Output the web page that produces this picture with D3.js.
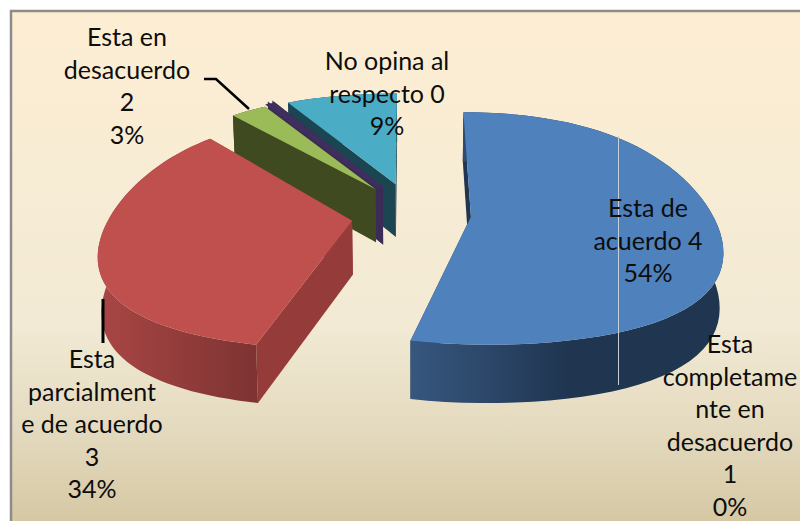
<!DOCTYPE html>
<html>
<head>
<meta charset="utf-8">
<style>
	html, body { margin: 0; padding: 0; background: #fff; }
	svg { display: block; }
	text { font-family: Lato, "Open Sans", sans-serif; font-size: 25px; fill: #0d0d0d; text-anchor: middle; }
</style>
<script src="https://cdn.jsdelivr.net/npm/d3@7/dist/d3.min.js"></script>
</head>
<body>
<svg id="chart" width="800" height="521"></svg>
<script>

// chart values
var categories = ["Esta de acuerdo", "Esta parcialmente de acuerdo", "Esta en desacuerdo", "Esta completamente en desacuerdo", "No opina al respecto"];
var scores = [4, 3, 2, 1, 0];
var percents = [54, 34, 3, 0.4, 8.6];

var labelLines = [
	["Esta de", "acuerdo 4"],
	["Esta", "parcialment", "e de acuerdo", "3"],
	["Esta en", "desacuerdo", "2"],
	["Esta", "completame", "nte en", "desacuerdo", "1"],
	["No opina al", "respecto 0"]
];

var topColors = ["#4f81bd", "#c0504d", "#9bbb59", "#3f2f5e", "#4bacc6"];
var cutColors = ["#1f3550", "#953b39", "#3f4a21", "#3a2c55", "#1c4552"];
var wallLeft = ["#37577f", "#a84644", "#3f4a21", "#3a2c55", "#1c4552"];
var wallRight = ["#1f3550", "#7a3231", "#3f4a21", "#3a2c55", "#1c4552"];

var labelCenters = [[648, 217], [92, 368], [127, 46], [730, 353], [387, 70]];
var drawOrder = [4, 3, 2, 1, 0];

var svg = d3.select("#chart");
var width = 800, height = 521;

var center = {x: 411, y: 213};
var radius = 241;
var tilt = 0.51;
var explode = 60;
var depth = 56;
var lineStep = 32.6;

var pie = d3.pie().sort(null).value(function (d) { return d; });
var arcs = pie(percents);

var defs = svg.append("defs");

var bg = defs.append("linearGradient").attr("id", "bg").attr("x1", 0).attr("y1", 0).attr("x2", 0).attr("y2", 1);
bg.append("stop").attr("offset", "0").attr("stop-color", "#fdeed3");
bg.append("stop").attr("offset", "0.6").attr("stop-color", "#f2ead5");
bg.append("stop").attr("offset", "0.8").attr("stop-color", "#e4dabf");
bg.append("stop").attr("offset", "1").attr("stop-color", "#d4c6a1");

svg.append("rect")
	.attr("x", 11).attr("y", 11)
	.attr("width", width).attr("height", height)
	.attr("fill", "url(#bg)")
	.attr("stroke", "#8c8c8c")
	.attr("stroke-width", 2.5);

// ground position (relative to pie centre, y towards viewer) to screen
function project(gx, gy, h)
{
	var u = gy / radius;
	var s = 1 + 0.21 * u + 0.09 * u * u;
	var yy = radius * tilt * (u + 0.1 * u * u - 0.06 * u * u * u);
	var k = 1 - 0.012 * h;
	return [center.x + gx * s * k, center.y + yy + h * depth * (0.96 + 0.08 * u)];
}

function slicePoint(mid, r, angle, h)
{
	var ox = explode * Math.sin(mid);
	var oy = -explode * Math.cos(mid);
	return project(ox + r * Math.sin(angle), oy - r * Math.cos(angle), h);
}

var line = d3.line();

arcs.forEach(function (d, i)
{
	d.mid = (d.startAngle + d.endAngle) / 2;
	d.rim = d3.range(0, 61).map(function (j) { return d.startAngle + (d.endAngle - d.startAngle) * j / 60; });

	var gr = defs.append("linearGradient").attr("id", "wall" + i)
		.attr("gradientUnits", "userSpaceOnUse")
		.attr("x1", slicePoint(d.mid, radius, d.endAngle, 0)[0])
		.attr("x2", i == 0 ? 570 : slicePoint(d.mid, radius, d.startAngle, 0)[0])
		.attr("y1", 0).attr("y2", 0);
	gr.append("stop").attr("offset", 0).attr("stop-color", wallLeft[i]);
	gr.append("stop").attr("offset", 1).attr("stop-color", wallRight[i]);
	if (i == 1)
	{
		gr.attr("x1", 100).attr("x2", 268);
	}
});

drawOrder.forEach(function (i)
{
	var d = arcs[i];
	var g = svg.append("g").attr("class", "slice");
	// the sliver is too thin to see on its own, so it gets an outline
	var outline = i == 3 ? 4 : 0;

	// cut faces
	[d.endAngle, d.startAngle].forEach(function (a)
	{
		g.append("path")
			.attr("d", line([
				slicePoint(d.mid, radius, a, 0),
				slicePoint(d.mid, 0, a, 0),
				slicePoint(d.mid, 0, a, 1),
				slicePoint(d.mid, radius, a, 1)
			]) + "Z")
			.attr("fill", cutColors[i])
			.attr("stroke", cutColors[i])
			.attr("stroke-width", outline);
	});

	// outer wall
	var topRim = d.rim.map(function (a) { return slicePoint(d.mid, radius, a, 0); });
	var botRim = d.rim.map(function (a) { return slicePoint(d.mid, radius, a, 1); });
	g.append("path")
		.attr("d", line(topRim.concat(botRim.reverse())) + "Z")
		.attr("fill", "url(#wall" + i + ")");

	// top face
	g.append("path")
		.attr("d", line([slicePoint(d.mid, 0, d.startAngle, 0)].concat(topRim)) + "Z")
		.attr("fill", topColors[i])
		.attr("stroke", topColors[i])
		.attr("stroke-width", outline);
});

// thin pale line across the blue slice
svg.append("line")
	.attr("x1", 618.5).attr("x2", 618.5)
	.attr("y1", 136).attr("y2", 385)
	.attr("stroke", "#c6cfd8")
	.attr("stroke-width", 1);

// leader lines
svg.append("path")
	.attr("d", line([[204, 79], [216, 79], [249, 109]]))
	.attr("fill", "none").attr("stroke", "#000").attr("stroke-width", 2.5);
svg.append("path")
	.attr("d", line([[103, 299], [103, 343]]))
	.attr("fill", "none").attr("stroke", "#000").attr("stroke-width", 3);

// labels
var pct = d3.format(".0f");

labelLines.forEach(function (lines, i)
{
	var rows = lines.concat([pct(percents[i]) + "%"]);
	var t = svg.append("text")
		.attr("x", labelCenters[i][0])
		.attr("y", labelCenters[i][1]);
	rows.forEach(function (row, j)
	{
		t.append("tspan")
			.attr("x", labelCenters[i][0])
			.attr("y", labelCenters[i][1] + j * lineStep)
			.text(row);
	});
});

</script>
</body>
</html>
